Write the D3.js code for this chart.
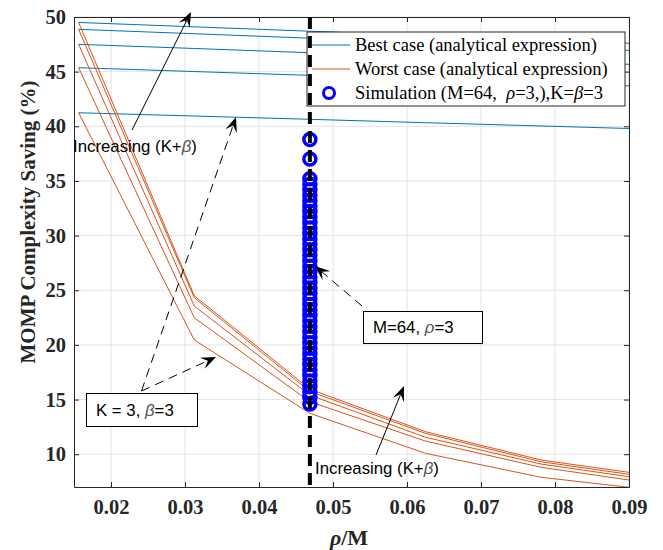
<!DOCTYPE html>
<html><head><meta charset="utf-8">
<script src="https://cdn.jsdelivr.net/npm/d3@7"></script>
<style>body{margin:0;background:#fff}svg{display:block}</style>
</head><body>
<svg id="c" width="663" height="550"></svg>
<script>
// ---- data ----
const xVals = [1/64, 2/64, 3/64, 4/64, 5/64, 0.09];
const bestCases = [
  [49.5, 49.1, 48.7, 48.3, 47.9, 47.6],
  [48.87, 48.47, 48.06, 47.66, 47.26, 46.95],
  [47.5, 47.12, 46.73, 46.35, 45.96, 45.67],
  [45.36, 45.01, 44.66, 44.31, 43.96, 43.7],
  [41.24, 40.94, 40.64, 40.33, 40.03, 39.8]
];
const worstCases = [
  [49.5, 24.5, 15.95, 12.06, 9.47, 8.34],
  [48.87, 24.32, 15.75, 11.91, 9.31, 8.16],
  [47.5, 23.56, 15.4, 11.55, 9.1, 7.94],
  [45.36, 22.49, 14.8, 11.2, 8.8, 7.64],
  [41.24, 20.45, 13.74, 10.08, 7.89, 6.97]
];
const simX = 3/64;
const simValues = [38.8, 37.0, 35.2, 34.7, 34.2, 33.7, 33.2, 32.7, 32.2, 31.7, 31.2, 30.7,
  30.2, 29.7, 29.2, 28.7, 28.2, 27.7, 27.2, 26.7, 26.2, 25.7, 25.2, 24.7, 24.2, 23.7,
  23.2, 22.7, 22.2, 21.7, 21.2, 20.7, 20.2, 19.7, 19.2, 18.7, 18.2, 17.7, 17.2, 16.7,
  16.2, 15.7, 15.2, 14.6];
const xTicks = [0.02, 0.03, 0.04, 0.05, 0.06, 0.07, 0.08, 0.09];
const yTicks = [10, 15, 20, 25, 30, 35, 40, 45, 50];
const legendLabels = ["Best case (analytical expression)", "Worst case (analytical expression)"];

// ---- layout ----
const L = 74, R = 629, T = 17, B = 487;
const svg = d3.select("#c");
const x = d3.scaleLinear().domain([0.015, 0.09]).range([L, R]);
const y = d3.scaleLinear().domain([7, 50]).range([B, T]);
const blue = "#0072BD", orange = "#D95319";
const serif = "'Liberation Serif','Times New Roman',serif";
const sans = "'Liberation Sans',Arial,sans-serif";

svg.append("defs").append("clipPath").attr("id", "clip")
  .append("rect").attr("x", L).attr("y", T).attr("width", R - L).attr("height", B - T);

// grid
const g = svg.append("g");
g.selectAll(".gx").data(xTicks).join("line")
  .attr("x1", d => x(d)).attr("x2", d => x(d)).attr("y1", T).attr("y2", B)
  .attr("stroke", "#e3e3e3").attr("stroke-width", 1);
g.selectAll(".gy").data(yTicks).join("line")
  .attr("y1", d => y(d)).attr("y2", d => y(d)).attr("x1", L).attr("x2", R)
  .attr("stroke", "#e3e3e3").attr("stroke-width", 1);

// axes
const axB = svg.append("g").attr("transform", `translate(0,${B})`)
  .call(d3.axisBottom(x).tickValues(xTicks).tickFormat(d3.format(".2f")).tickSizeInner(-5).tickSizeOuter(0).tickPadding(12));
const axL = svg.append("g").attr("transform", `translate(${L},0)`)
  .call(d3.axisLeft(y).tickValues(yTicks).tickFormat(d3.format("d")).tickSizeInner(-5).tickSizeOuter(0).tickPadding(8));
const axT = svg.append("g").attr("transform", `translate(0,${T})`)
  .call(d3.axisTop(x).tickValues(xTicks).tickFormat("").tickSizeInner(-5).tickSizeOuter(0));
const axR = svg.append("g").attr("transform", `translate(${R},0)`)
  .call(d3.axisRight(y).tickValues(yTicks).tickFormat("").tickSizeInner(-5).tickSizeOuter(0));
[axB, axL, axT, axR].forEach(a => {
  a.select(".domain").attr("stroke", "#262626");
  a.selectAll(".tick line").attr("stroke", "#262626");
  a.selectAll("text").attr("font-family", serif).attr("font-weight", "bold")
    .attr("font-size", "20.5px").attr("fill", "#262626");
});

// lines
const line = d3.line().x((d, i) => x(xVals[i])).y(d => y(d));
const plot = svg.append("g").attr("clip-path", "url(#clip)");
plot.selectAll(".best").data(bestCases).join("path")
  .attr("d", line).attr("fill", "none").attr("stroke", blue).attr("stroke-width", 1);
plot.selectAll(".worst").data(worstCases).join("path")
  .attr("d", line).attr("fill", "none").attr("stroke", orange).attr("stroke-width", 1);

// simulation circles
svg.append("g").selectAll("circle").data(simValues).join("circle")
  .attr("cx", x(simX)).attr("cy", d => y(d)).attr("r", 6)
  .attr("fill", "none").attr("stroke", "#0000FF").attr("stroke-width", 3.5);

// legend
const lg = svg.append("g");
lg.append("rect").attr("x", 307).attr("y", 32).attr("width", 318).attr("height", 74)
  .attr("fill", "#fff").attr("stroke", "#262626").attr("stroke-width", 1);
const rows = [45, 69, 93];
[blue, orange].forEach((c, i) => {
  lg.append("line").attr("x1", 312).attr("x2", 350).attr("y1", rows[i]).attr("y2", rows[i])
    .attr("stroke", c).attr("stroke-width", 1);
  lg.append("text").attr("x", 355).attr("y", rows[i] + 6).text(legendLabels[i])
    .attr("font-family", serif).attr("font-size", "18.5px").attr("fill", "#000");
});
lg.append("circle").attr("cx", 329).attr("cy", rows[2]).attr("r", 5.5)
  .attr("fill", "none").attr("stroke", "#0000FF").attr("stroke-width", 3);
const t3 = lg.append("text").attr("x", 355).attr("y", rows[2] + 6)
  .attr("font-family", serif).attr("font-size", "18.5px").attr("fill", "#000");
t3.append("tspan").text("Simulation (M=64,\u00a0 ");
t3.append("tspan").attr("font-style", "italic").text("ρ");
t3.append("tspan").text("=3,),K=");
t3.append("tspan").attr("font-style", "italic").text("β");
t3.append("tspan").text("=3");

// vertical dashed line
svg.append("line").attr("x1", x(simX)).attr("x2", x(simX)).attr("y1", T).attr("y2", 492)
  .attr("stroke", "#000").attr("stroke-width", 4).attr("stroke-dasharray", "12,7");

// annotation helpers
function arrow(x0, y0, x1, y1, dashed) {
  const dx = x1 - x0, dy = y1 - y0, len = Math.hypot(dx, dy);
  const ux = dx / len, uy = dy / len, nx = -uy, ny = ux;
  const HL = 15, HW = 6;
  svg.append("line").attr("x1", x0).attr("y1", y0)
    .attr("x2", x1 - ux * HL * 0.6).attr("y2", y1 - uy * HL * 0.6)
    .attr("stroke", "#000").attr("stroke-width", 1)
    .attr("stroke-dasharray", dashed ? "9,6" : null);
  const p = [[x1, y1],
    [x1 - ux * HL + nx * HW, y1 - uy * HL + ny * HW],
    [x1 - ux * HL * 0.6, y1 - uy * HL * 0.6],
    [x1 - ux * HL - nx * HW, y1 - uy * HL - ny * HW]];
  svg.append("path").attr("d", "M" + p.map(q => q.join(",")).join("L") + "Z").attr("fill", "#000");
}
function label(xp, yp, parts) {
  const t = svg.append("text").attr("x", xp).attr("y", yp)
    .attr("font-family", sans).attr("font-size", "16.8px").attr("fill", "#000");
  parts.forEach(([s, it]) => t.append("tspan").attr("font-style", it ? "italic" : null)
    .attr("fill", it ? "#555" : null).text(s));
}

arrow(132, 130, 191, 12, false);
label(73, 152, [["Increasing (K+", 0], ["β", 1], [")", 0]]);

arrow(141.5, 391, 236, 117, true);
arrow(141.5, 391, 216, 357, true);
svg.append("rect").attr("x", 86.5).attr("y", 393.5).attr("width", 111).attr("height", 33)
  .attr("fill", "#fff").attr("stroke", "#000").attr("stroke-width", 1);
label(96, 416, [["K = 3, ", 0], ["β", 1], ["=3", 0]]);

arrow(362, 306, 315, 266, true);
svg.append("rect").attr("x", 363.5).attr("y", 311.5).attr("width", 119).attr("height", 32)
  .attr("fill", "#fff").attr("stroke", "#000").attr("stroke-width", 1);
label(373, 333, [["M=64, ", 0], ["ρ", 1], ["=3", 0]]);

arrow(376, 455, 404, 386, false);
label(315, 474, [["Increasing (K+", 0], ["β", 1], [")", 0]]);

// axis labels
svg.append("text").attr("transform", "translate(35,222) rotate(-90)").attr("text-anchor", "middle")
  .attr("font-family", serif).attr("font-weight", "bold").attr("font-size", "21px").attr("fill", "#262626")
  .text("MOMP Complexity Saving (%)");
const xl = svg.append("text").attr("x", 349).attr("y", 545).attr("text-anchor", "middle")
  .attr("font-family", serif).attr("font-weight", "bold").attr("font-size", "22px").attr("fill", "#262626");
xl.append("tspan").attr("font-style", "italic").text("ρ");
xl.append("tspan").text("/M");
</script>
</body></html>
